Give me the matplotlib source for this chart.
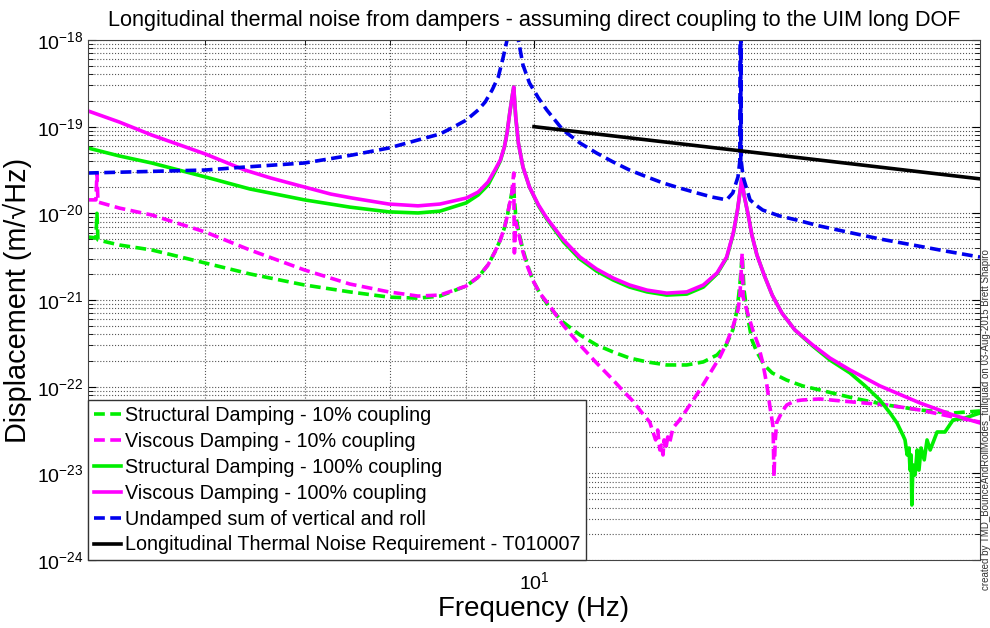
import matplotlib.pyplot as plt
import numpy as np
from matplotlib.ticker import FixedLocator, NullFormatter

plt.rcParams['font.family'] = ['Liberation Sans', 'DejaVu Sans']

# Values (frequency in Hz, displacement in m/rtHz)

# Structural damping - 10% coupling (green dashed)
f_str10 = [5.00, 5.062, 5.070, 5.078, 5.25, 5.52, 6.00, 6.43, 7.00, 7.51, 7.98, 8.35,
           8.64, 9.00, 9.17, 9.31, 9.41, 9.49, 9.55, 9.59, 9.63, 9.67, 9.69, 9.70, 9.72,
           9.76, 9.83, 9.89, 9.98, 10.09, 10.25, 10.46, 10.74, 11.02, 11.31, 11.60, 11.92,
           12.29, 12.68, 13.01, 13.29, 13.48, 13.62, 13.71, 13.77, 13.82, 13.86, 13.95,
           14.03, 14.14, 14.30, 14.48, 14.81, 15.18, 15.59, 16.42, 17.31, 18.22, 19.18, 20.0]
x_str10 = [5.33e-21, 5.2e-21, 1.0e-20, 4.93e-21, 4.31e-21, 3.78e-21, 2.67e-21, 2.0e-21,
           1.49e-21, 1.24e-21, 1.08e-21, 1.05e-21, 1.11e-21, 1.45e-21, 1.84e-21, 2.54e-21,
           3.58e-21, 4.93e-21, 6.77e-21, 9.07e-21, 1.32e-20, 1.86e-20, 2.12e-20, 1.43e-20,
           9.57e-21, 6.42e-21, 3.78e-21, 2.67e-21, 1.70e-21, 1.20e-21, 8.09e-22, 5.57e-22,
           3.95e-22, 3.03e-22, 2.51e-22, 2.14e-22, 1.93e-22, 1.78e-22, 1.78e-22, 1.93e-22,
           2.32e-22, 3.03e-22, 4.51e-22, 7.66e-22, 1.49e-21, 3.31e-21, 1.30e-21, 5.88e-22,
           3.46e-22, 2.51e-22, 1.78e-22, 1.44e-22, 1.19e-22, 1.02e-22, 9.16e-23, 7.40e-23,
           6.14e-23, 5.38e-23, 4.97e-23, 5.24e-23]

# Viscous damping - 10% coupling (magenta dashed)
f_vis10 = [5.00, 5.062, 5.070, 5.078, 5.25, 5.52, 6.00, 6.43, 7.00, 7.51, 7.98, 8.35,
           8.64, 9.00, 9.17, 9.31, 9.41, 9.49, 9.55, 9.59, 9.63, 9.65, 9.69, 9.70, 9.72,
           9.76, 9.83, 9.89, 9.98, 10.09, 10.25, 10.46, 10.74, 11.02, 11.31, 11.47, 11.66,
           11.83, 11.97, 12.08, 12.12, 12.16, 12.19, 12.22, 12.24, 12.27, 12.31, 12.35,
           12.41, 12.54, 12.74, 12.94, 13.15, 13.35, 13.49, 13.62, 13.73, 13.77, 13.82,
           13.84, 13.95, 14.05, 14.17, 14.27, 14.36, 14.43, 14.50, 14.52, 14.55, 14.58,
           14.70, 14.81, 15.00, 15.18, 15.59, 16.42, 17.31, 18.22, 19.18, 20.0]
x_vis10 = [1.43e-20, 1.43e-20, 2.92e-20, 1.35e-20, 1.15e-20, 9.57e-21, 6.09e-21, 3.78e-21,
           2.22e-21, 1.53e-21, 1.24e-21, 1.11e-21, 1.14e-21, 1.45e-21, 1.84e-21, 2.54e-21,
           3.58e-21, 4.93e-21, 6.77e-21, 9.07e-21, 1.32e-20, 1.43e-20, 2.92e-20, 3.49e-21,
           7.95e-21, 6.09e-21, 3.58e-21, 2.54e-21, 1.70e-21, 1.20e-21, 8.53e-22, 5.15e-22,
           3.03e-22, 1.88e-22, 1.19e-22, 9.16e-23, 6.84e-23, 4.97e-23, 3.91e-23, 2.43e-23,
           3.16e-23, 1.86e-23, 2.12e-23, 1.63e-23, 2.43e-23, 1.86e-23, 2.63e-23, 2.30e-23,
           3.34e-23, 4.13e-23, 6.14e-23, 9.16e-23, 1.44e-22, 2.2e-22, 3.19e-22, 4.88e-22,
           7.66e-22, 1.08e-21, 3.49e-21, 1.08e-21, 6.71e-22, 4.51e-22, 3.03e-22, 1.88e-22,
           1.05e-22, 5.83e-23, 3.43e-23, 9.08e-24, 2.43e-23, 3.81e-23, 5.10e-23, 6.14e-23,
           6.84e-23, 7.02e-23, 7.21e-23, 6.65e-23, 6.14e-23, 5.38e-23, 4.47e-23, 3.91e-23]

# Structural damping - 100% coupling (green solid)
f_str100 = [5.00, 5.25, 5.52, 6.00, 6.43, 7.00, 7.51, 7.98, 8.35, 8.64, 9.00, 9.17, 9.31,
            9.41, 9.49, 9.55, 9.59, 9.63, 9.67, 9.69, 9.72, 9.76, 9.83, 9.93, 10.07, 10.20,
            10.47, 10.74, 11.02, 11.31, 11.60, 11.92, 12.29, 12.68, 13.01, 13.29, 13.49,
            13.63, 13.72, 13.77, 13.81, 13.86, 13.95, 14.03, 14.14, 14.30, 14.48, 14.70,
            15.00, 15.42, 15.84, 16.34, 16.73, 17.12, 17.39, 17.58, 17.74, 17.80, 17.86,
            17.91, 17.94, 17.97, 17.99, 18.02, 18.08, 18.14, 18.19, 18.25, 18.34, 18.42,
            18.51, 18.71, 18.94, 19.18, 19.54, 20.0]
x_str100 = [5.67e-20, 4.59e-20, 3.81e-20, 2.63e-20, 1.91e-20, 1.43e-20, 1.18e-20, 1.04e-20,
            1.01e-20, 1.06e-20, 1.32e-20, 1.63e-20, 2.12e-20, 3.0e-20, 4.02e-20, 5.83e-20,
            8.45e-20, 1.44e-19, 2.32e-19, 2.87e-19, 1.29e-19, 6.48e-20, 3.42e-20, 2.01e-20,
            1.22e-20, 8.61e-21, 4.67e-21, 2.97e-21, 2.16e-21, 1.70e-21, 1.41e-21, 1.24e-21,
            1.14e-21, 1.17e-21, 1.41e-21, 2.0e-21, 3.05e-21, 5.78e-21, 1.09e-20, 1.72e-20,
            2.49e-20, 1.63e-20, 9.57e-21, 5.62e-21, 3.31e-21, 1.94e-21, 1.14e-21, 7.08e-22,
            4.51e-22, 2.95e-22, 2.03e-22, 1.44e-22, 1.02e-22, 7.02e-23, 4.97e-23, 3.81e-23,
            2.77e-23, 2.43e-23, 1.63e-23, 1.96e-23, 1.09e-23, 1.63e-23, 4.31e-24, 1.25e-23,
            9.57e-24, 1.86e-23, 1.09e-23, 1.96e-23, 1.43e-23, 2.43e-23, 1.86e-23, 3.0e-23,
            3.0e-23, 4.13e-23, 4.35e-23, 4.97e-23]

# Viscous damping - 100% coupling (magenta solid)
f_vis100 = [5.00, 5.25, 5.52, 6.00, 6.38, 6.64, 7.00, 7.29, 7.54, 7.98, 8.35, 8.64, 9.00,
            9.17, 9.31, 9.41, 9.49, 9.55, 9.59, 9.63, 9.67, 9.69, 9.72, 9.76, 9.83, 9.93,
            10.07, 10.20, 10.47, 10.74, 11.02, 11.31, 11.60, 11.92, 12.29, 12.68, 13.01,
            13.29, 13.49, 13.63, 13.72, 13.77, 13.81, 13.86, 13.95, 14.03, 14.14, 14.30,
            14.48, 14.70, 15.00, 15.42, 15.84, 16.34, 17.12, 18.22, 19.18, 20.0]
x_vis100 = [1.52e-19, 1.13e-19, 8.01e-20, 4.84e-20, 3.16e-20, 2.56e-20, 2.01e-20, 1.67e-20,
            1.50e-20, 1.28e-20, 1.22e-20, 1.28e-20, 1.50e-20, 1.76e-20, 2.30e-20, 3.16e-20,
            4.12e-20, 5.83e-20, 8.45e-20, 1.44e-19, 2.32e-19, 2.87e-19, 1.29e-19, 6.48e-20,
            3.42e-20, 2.01e-20, 1.25e-20, 8.84e-21, 4.93e-21, 3.13e-21, 2.28e-21, 1.79e-21,
            1.49e-21, 1.30e-21, 1.20e-21, 1.24e-21, 1.49e-21, 2.05e-21, 3.13e-21, 5.93e-21,
            1.09e-20, 1.72e-20, 2.49e-20, 1.63e-20, 9.57e-21, 5.62e-21, 3.31e-21, 1.94e-21,
            1.14e-21, 7.08e-22, 4.51e-22, 3.03e-22, 2.14e-22, 1.56e-22, 1.02e-22, 6.48e-23,
            4.71e-23, 3.81e-23]

# Undamped sum of vertical and roll (blue dashed)
f_und = [5.00, 6.00, 6.38, 7.00, 7.54, 7.98, 8.35, 8.64, 8.80, 9.00, 9.17, 9.27, 9.37,
         9.46, 9.53, 9.59, 9.67, 9.76, 9.83, 9.93, 10.07, 10.20, 10.46, 10.74, 11.02, 11.31,
         11.60, 11.92, 12.22, 12.54, 12.88, 13.19, 13.49, 13.62, 13.73, 13.77, 13.785,
         13.79, 13.795, 13.80, 13.84, 13.99, 14.14, 14.27, 14.65, 15.04, 15.59, 16.27,
         17.12, 18.02, 18.94, 20.0]
x_und = [2.92e-20, 3.16e-20, 3.42e-20, 3.81e-20, 4.71e-20, 5.67e-20, 7.02e-20, 8.23e-20,
         9.65e-20, 1.19e-19, 1.56e-19, 1.93e-19, 2.65e-19, 3.74e-19, 6.2e-19, 1.0e-18,
         5.0e-18, 1.0e-18, 5.15e-19, 3.19e-19, 2.14e-19, 1.56e-19, 9.15e-20, 6.48e-20,
         4.97e-20, 3.91e-20, 3.16e-20, 2.63e-20, 2.24e-20, 1.96e-20, 1.72e-20, 1.54e-20,
         1.43e-20, 1.72e-20, 2.63e-20, 4.0e-20, 1.0e-16, 4.0e-20, 1.0e-16, 4.0e-20, 2.63e-20,
         1.43e-20, 1.22e-20, 1.09e-20, 9.32e-21, 8.38e-21, 7.14e-21, 6.09e-21, 5.06e-21,
         4.31e-21, 3.68e-21, 3.13e-21]

# Longitudinal thermal noise requirement - T010007 (black)
f_req = [10.0, 20.0]
x_req = [1.0e-19, 2.5e-20]

x_ticks = [10]
y_ticks = [1e-24, 1e-23, 1e-22, 1e-21, 1e-20, 1e-19, 1e-18]

green = '#00ee00'
magenta = '#ff00ff'
blue = '#0000ee'
lw = 2.6
dash = (3.0, 1.5)

fig = plt.figure(figsize=(9.9, 6.28), dpi=100)
ax = fig.add_axes([88/990, 68/628, 892/990, 520/628])

ax.loglog(f_str10, x_str10, color=green, lw=lw, dashes=dash,
          label='Structural Damping - 10% coupling')
ax.loglog(f_vis10, x_vis10, color=magenta, lw=lw, dashes=dash,
          label='Viscous Damping - 10% coupling')
ax.loglog(f_str100, x_str100, color=green, lw=lw,
          label='Structural Damping - 100% coupling')
ax.loglog(f_vis100, x_vis100, color=magenta, lw=lw,
          label='Viscous Damping - 100% coupling')
ax.loglog(f_und, x_und, color=blue, lw=lw, dashes=dash,
          label='Undamped sum of vertical and roll')
ax.loglog(f_req, x_req, color='k', lw=lw,
          label='Longitudinal Thermal Noise Requirement - T010007')

ax.set_xlim(5, 20)
ax.set_ylim(1e-24, 1e-18)

# explicit ticks so nothing sits outside the axes
ax.xaxis.set_major_locator(FixedLocator(x_ticks))
ax.xaxis.set_minor_locator(FixedLocator([6, 7, 8, 9]))
ax.xaxis.set_minor_formatter(NullFormatter())
ax.yaxis.set_major_locator(FixedLocator(y_ticks))
y_minor = [m * 10.0**e for e in range(-24, -18) for m in range(2, 10)]
ax.yaxis.set_minor_locator(FixedLocator(y_minor))
ax.yaxis.set_minor_formatter(NullFormatter())

ax.grid(True, which='both', linestyle=':', color='#555555', lw=0.8)
ax.tick_params(which='both', direction='in', top=True, right=True, labelsize=14)
ax.tick_params(axis='x', which='major', pad=8)
ax.tick_params(which='major', length=6)
ax.tick_params(which='minor', length=3.5)
for s in ax.spines.values():
    s.set_color('#444444')

ax.set_title('Longitudinal thermal noise from dampers - assuming direct coupling to the UIM long DOF',
             fontsize=15.6, pad=10)
ax.set_xlabel('Frequency (Hz)', fontsize=20, labelpad=2)
ax.set_ylabel('Displacement (m/\u221aHz)', fontsize=20.8, labelpad=3)

leg = ax.legend(loc='lower left', fontsize=14.2, borderaxespad=0, fancybox=False,
                framealpha=1, edgecolor='#333333', handlelength=1.4, handletextpad=0.2,
                borderpad=0.28, labelspacing=0.35)
leg.get_frame().set_linewidth(1.0)

fig.text(0.9955, 38/628, 'created by TMD_BounceAndRollModes_fullquad on 03-Aug-2015 Brett Shapiro',
         rotation=90, ha='center', va='bottom', fontsize=7, color='#333333')

fig.savefig('out.png', dpi=100)
